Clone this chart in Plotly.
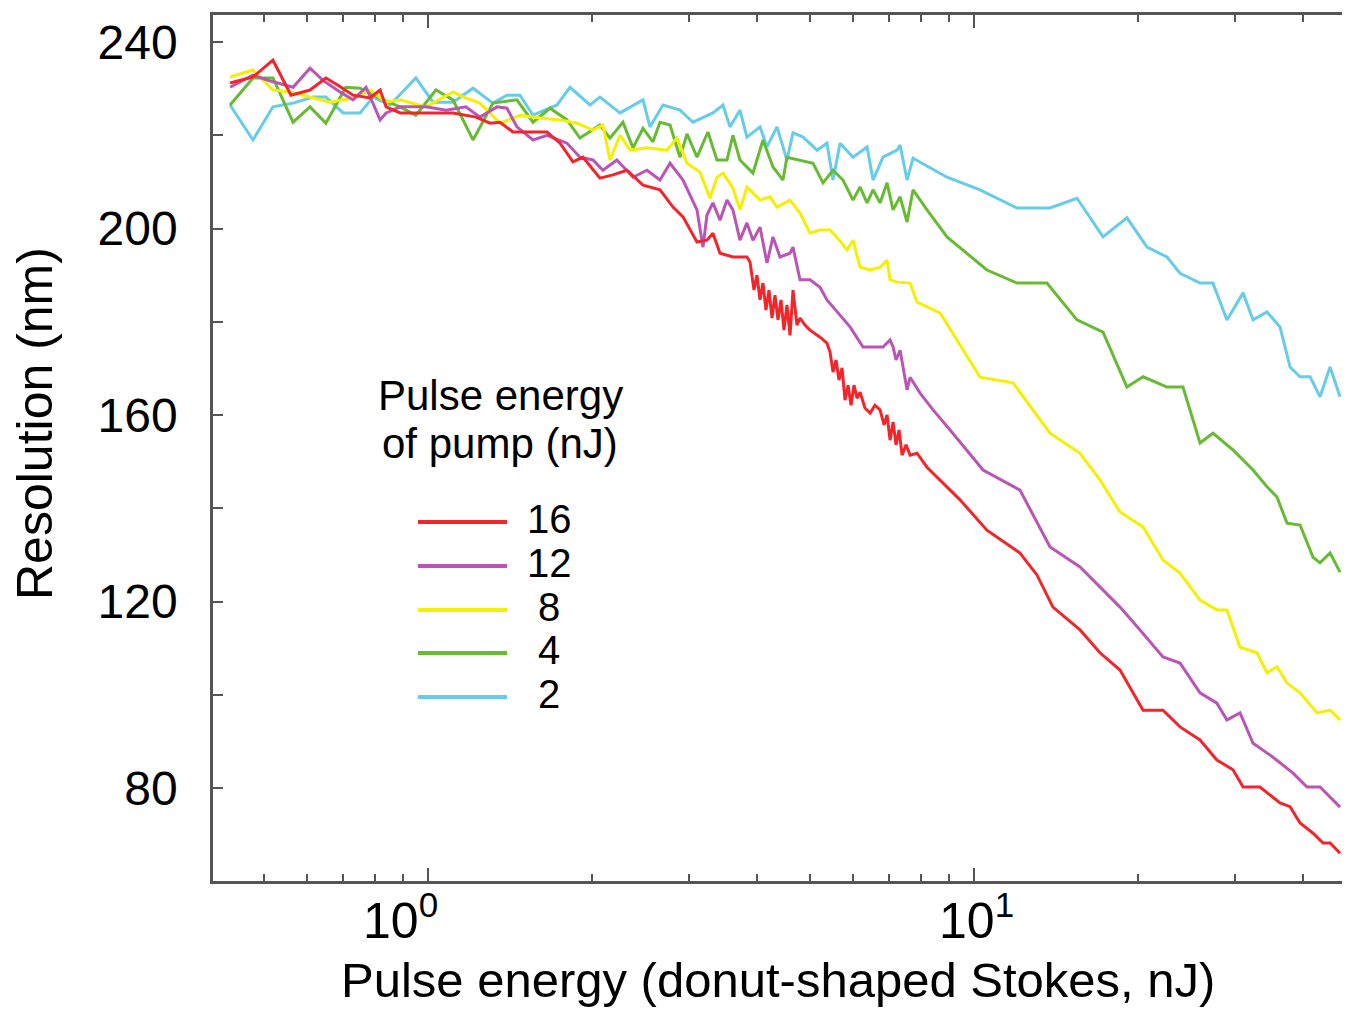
import plotly.graph_objects as go

# Pump pulse energies (nJ) and line colours, legend order
pump = [16, 12, 8, 4, 2]
colors = ["#f2262a", "#bb55b5", "#f5ef00", "#66bb33", "#66ccea"]

# Stokes pulse energy (nJ) / resolution (nm), one pair per pump energy
stokes_16 = [0.434, 0.478, 0.520, 0.561, 0.608, 0.650, 0.683, 0.729, 0.783, 0.817, 0.838, 0.889,
             1.111, 1.224, 1.299, 1.355, 1.431, 1.652, 1.745, 1.843, 1.922, 2.065, 2.181, 2.314,
             2.476, 2.660, 2.810, 2.931, 3.109, 3.243, 3.325, 3.426, 3.618, 3.838, 3.888, 3.954,
             4.004, 4.056, 4.107, 4.159, 4.212, 4.266, 4.320, 4.375, 4.431, 4.487, 4.544, 4.603,
             4.661, 4.740, 4.801, 4.903, 5.008, 5.224, 5.379, 5.449, 5.518, 5.588, 5.659, 5.732,
             5.805, 5.879, 5.954, 6.029, 6.106, 6.184, 6.314, 6.451, 6.586, 6.729, 6.843, 6.930,
             7.019, 7.108, 7.198, 7.290, 7.383, 7.508, 7.637, 7.864, 8.203, 8.925, 9.428, 10.56,
             12.14, 13.04, 13.95, 15.64, 17.01, 18.51, 20.40, 22.19, 23.84, 25.94, 27.85, 29.81,
             31.10, 33.41, 36.35, 37.92, 39.55, 41.78, 43.58, 44.89, 46.82]
res_16 = [231.2, 232.5, 236.1, 228.6, 229.7, 232.3, 230.8, 228.6, 228.0, 229.7, 226.1, 224.8,
          224.8, 223.9, 222.6, 222.8, 220.7, 220.7, 218.3, 214.3, 215.3, 210.8, 211.5, 212.5,
          209.3, 208.3, 204.6, 202.5, 197.1, 197.5, 199.0, 194.7, 193.9, 193.9, 192.8, 186.8,
          190.0, 184.7, 188.3, 182.5, 186.8, 180.8, 185.7, 180.4, 184.7, 178.2, 183.6, 177.1,
          186.8, 179.3, 180.8, 179.3, 178.2, 176.7, 175.4, 173.5, 169.2, 171.8, 167.5, 170.1,
          163.2, 166.4, 162.1, 166.4, 163.6, 164.9, 161.5, 160.4, 162.1, 161.1, 157.9, 160.0,
          154.6, 158.5, 153.6, 156.8, 151.4, 153.6, 151.4, 151.8, 148.8, 144.6, 141.8, 135.3,
          130.4, 125.7, 118.8, 113.9, 109.0, 105.3, 96.7, 96.7, 93.1, 90.3, 86.0, 83.9,
          80.2, 80.2, 76.8, 76.0, 72.5, 70.3, 68.2, 68.2, 66.0]

stokes_12 = [0.434, 0.478, 0.509, 0.566, 0.608, 0.642, 0.690, 0.729, 0.770, 0.817, 0.838, 0.889,
             0.991, 1.079, 1.173, 1.245, 1.338, 1.395, 1.455, 1.557, 1.652, 1.797, 1.898, 2.005,
             2.091, 2.218, 2.374, 2.518, 2.660, 2.775, 2.931, 3.109, 3.189, 3.243, 3.325, 3.426,
             3.528, 3.618, 3.727, 3.838, 3.937, 4.056, 4.177, 4.284, 4.412, 4.603, 4.661, 4.801,
             5.008, 5.224, 5.379, 5.518, 5.929, 6.262, 6.814, 7.019, 7.108, 7.198, 7.321, 7.540,
             7.637, 7.966, 8.415, 9.040, 10.39, 12.14, 13.78, 15.64, 17.01, 18.51, 20.14, 22.19,
             23.84, 25.94, 27.85, 29.06, 30.71, 32.44, 35.29, 38.40, 40.73, 43.03, 46.82]
res_12 = [230.3, 232.9, 231.8, 230.3, 234.4, 231.8, 229.3, 227.6, 230.3, 223.3, 224.8, 226.1,
          226.1, 225.4, 226.1, 223.9, 226.1, 225.8, 221.8, 219.0, 220.0, 218.3, 215.3, 214.7,
          212.5, 214.7, 211.0, 212.5, 210.4, 214.0, 210.4, 204.0, 196.0, 202.9, 205.5, 201.8,
          206.1, 204.0, 197.5, 201.2, 197.5, 200.3, 192.6, 198.2, 193.9, 194.7, 196.0, 189.0,
          189.0, 187.4, 184.7, 183.2, 178.9, 174.6, 174.6, 176.1, 174.6, 171.8, 173.9, 165.4,
          168.1, 164.7, 161.1, 156.8, 148.2, 143.9, 131.7, 127.4, 123.1, 118.8, 113.9, 108.1,
          106.8, 100.4, 98.2, 94.6, 96.1, 89.6, 86.6, 83.2, 80.2, 80.2, 75.9]

stokes_8 = [0.434, 0.478, 0.520, 0.559, 0.661, 0.729, 0.783, 0.838, 0.889, 0.991, 1.111, 1.173,
            1.245, 1.355, 1.474, 1.604, 1.745, 1.874, 2.005, 2.091, 2.154, 2.247, 2.344, 2.518,
            2.739, 2.857, 2.981, 3.149, 3.284, 3.382, 3.469, 3.618, 3.727, 3.838, 4.056, 4.230,
            4.357, 4.603, 4.801, 5.008, 5.224, 5.449, 5.604, 5.853, 6.004, 6.184, 6.451, 6.729,
            6.930, 7.019, 7.229, 7.637, 7.864, 8.667, 9.428, 10.26, 11.79, 13.78, 15.64, 17.01,
            18.51, 20.40, 22.19, 23.84, 25.94, 27.85, 29.06, 30.71, 32.99, 34.41, 35.89, 37.44,
            39.55, 42.49, 44.89, 46.82]
res_8 = [232.5, 234.0, 229.7, 229.3, 227.1, 228.0, 229.7, 227.1, 227.6, 226.1, 229.3, 228.0,
         226.9, 222.6, 224.3, 223.7, 223.3, 222.6, 221.1, 222.2, 214.7, 220.0, 216.8, 217.3,
         216.8, 219.4, 214.0, 212.1, 206.5, 211.0, 211.9, 208.7, 204.0, 208.9, 206.1, 206.8,
         204.6, 206.1, 203.3, 199.0, 199.7, 199.7, 198.2, 195.4, 197.5, 191.7, 191.1, 191.7,
         193.2, 189.0, 188.5, 188.3, 184.2, 181.9, 175.0, 168.1, 166.9, 156.1, 151.8, 146.1,
         139.2, 136.0, 128.9, 126.1, 120.3, 118.2, 118.2, 110.2, 109.0, 104.7, 106.0, 102.5,
         100.4, 96.1, 96.7, 94.6]

stokes_4 = [0.434, 0.478, 0.520, 0.566, 0.608, 0.650, 0.707, 0.751, 0.827, 0.889, 0.950, 1.034,
            1.111, 1.209, 1.315, 1.455, 1.557, 1.673, 1.797, 1.898, 2.065, 2.154, 2.275, 2.374,
            2.476, 2.582, 2.660, 2.775, 2.894, 2.981, 3.109, 3.256, 3.382, 3.528, 3.618, 3.727,
            3.937, 4.107, 4.284, 4.468, 4.544, 4.801, 5.072, 5.290, 5.518, 5.756, 6.004, 6.184,
            6.370, 6.533, 6.729, 6.930, 7.108, 7.321, 7.540, 7.734, 8.203, 8.925, 10.56, 11.99,
            13.60, 15.44, 17.23, 19.06, 20.40, 22.57, 24.14, 25.94, 27.39, 29.81, 32.44, 34.41,
            35.89, 37.44, 39.55, 41.78, 43.03, 44.89, 46.82]
res_4 = [226.5, 232.3, 232.3, 222.8, 226.1, 222.6, 230.3, 230.1, 227.6, 226.1, 224.3, 229.7,
         227.6, 219.0, 226.9, 227.6, 222.8, 225.8, 223.3, 219.4, 222.2, 219.4, 222.8, 217.3,
         221.5, 218.6, 222.8, 222.2, 215.3, 220.3, 215.3, 220.7, 214.7, 214.7, 220.0, 214.7,
         211.9, 219.0, 213.2, 210.4, 215.3, 214.7, 214.0, 209.8, 212.5, 210.4, 206.1, 208.9,
         205.5, 208.3, 205.5, 209.8, 204.0, 206.8, 201.4, 208.3, 204.0, 198.2, 191.1, 188.3,
         188.3, 180.4, 177.8, 166.0, 168.2, 166.0, 166.0, 154.0, 156.1, 152.5, 148.2, 144.6,
         142.4, 136.8, 136.4, 129.5, 128.3, 130.4, 126.3]

stokes_2 = [0.434, 0.478, 0.520, 0.566, 0.616, 0.650, 0.699, 0.751, 0.793, 0.852, 0.950, 1.021,
            1.111, 1.209, 1.315, 1.395, 1.474, 1.557, 1.723, 1.820, 1.980, 2.065, 2.247, 2.476,
            2.550, 2.694, 2.894, 3.057, 3.325, 3.469, 3.573, 3.727, 3.838, 4.056, 4.177, 4.357,
            4.544, 4.661, 4.862, 5.161, 5.379, 5.518, 5.684, 6.004, 6.370, 6.533, 6.814, 7.229,
            7.321, 7.540, 7.734, 8.925, 10.26, 11.99, 13.78, 15.44, 17.23, 19.06, 20.74, 22.57,
            23.84, 25.94, 27.39, 29.06, 31.10, 32.44, 34.41, 36.35, 37.92, 39.55, 41.26, 43.03,
            44.89, 46.82]
res_2 = [226.5, 219.0, 226.1, 226.9, 228.2, 228.2, 224.8, 224.8, 228.2, 226.5, 232.3, 227.1,
         227.1, 230.1, 226.9, 228.6, 228.6, 224.3, 226.5, 230.3, 226.5, 228.2, 224.8, 227.6,
         221.8, 226.5, 225.4, 222.8, 224.8, 226.5, 221.8, 225.4, 219.6, 221.8, 217.5, 221.8,
         214.7, 220.5, 219.6, 216.8, 218.3, 210.4, 218.3, 215.3, 217.5, 210.4, 215.3, 216.8,
         217.9, 210.4, 215.1, 211.0, 208.3, 204.4, 204.4, 206.5, 198.2, 202.3, 196.0, 193.9,
         190.4, 188.3, 188.3, 180.4, 186.2, 180.4, 182.1, 178.9, 170.3, 168.2, 168.2, 163.9,
         170.3, 163.9]

series = [(stokes_16, res_16), (stokes_12, res_12), (stokes_8, res_8),
          (stokes_4, res_4), (stokes_2, res_2)]

# x tick labels and minor tick positions
major_x = [1, 10]
major_x_text = ["10<sup>0</sup>", "10<sup>1</sup>"]
minor_x = [0.5, 0.6, 0.7, 0.8, 0.9, 2, 3, 4, 5, 6, 7, 8, 9, 20, 30, 40]
major_y = [80, 120, 160, 200, 240]
minor_y = [100, 140, 180, 220]
all_y = [80, 100, 120, 140, 160, 180, 200, 220, 240]

# the page adds an 8px body margin all round, so the figure is 16px smaller than the window
W, H = 1334, 1001
L, R, T, B = 205, 0, 7, 128
# plot area in screen pixels (for placing the hand-made legend / labels)
X0, X1, Y0, Y1 = 213, 1342, 15, 881
axis_col = "#555555"
font = "Arial, Liberation Sans, sans-serif"


def px(x):
    return (x - X0) / (X1 - X0)


def py(y):
    return (Y1 - y) / (Y1 - Y0)


def label(x, y, text, size, **kw):
    fig.add_annotation(x=x, y=y, text=text, showarrow=False,
                       xanchor="center", yanchor="middle",
                       font=dict(size=size, color="black", family=font), **kw)


fig = go.Figure()
for i in reversed(range(len(series))):
    sx, sy = series[i]
    fig.add_trace(go.Scatter(x=sx, y=sy, mode="lines", name=str(pump[i]),
                             line=dict(color=colors[i], width=3), showlegend=False))

# hand-drawn legend (long sample lines like the original)
legend_rows = [522, 566, 610, 653, 697]
for i, yy in enumerate(legend_rows):
    fig.add_shape(type="line", xref="paper", yref="paper",
                  x0=px(418), x1=px(507), y0=py(yy), y1=py(yy),
                  line=dict(color=colors[i], width=4))
    label(px(549), py(yy - 3), str(pump[i]), 40, xref="paper", yref="paper")

label(px(500), py(395), "Pulse energy", 42, xref="paper", yref="paper")
label(px(500), py(443), "of pump (nJ)", 42, xref="paper", yref="paper")

# x tick labels as 10^n (annotation x is log10 on a log axis)
for k, (t, sh) in enumerate(zip(major_x_text, [-28, 2])):
    label(k, py(917), t, 50, xref="x", yref="paper", xshift=sh)

label(0.5, py(980), "Pulse energy (donut-shaped Stokes, nJ)", 49, xref="paper", yref="paper")
label(px(35), py(424), "Resolution (nm)", 50, xref="paper", yref="paper", textangle=-90)

fig.update_layout(
    width=W, height=H,
    margin=dict(l=L, r=R, t=T, b=B),
    paper_bgcolor="white", plot_bgcolor="white",
    font=dict(family=font, color="black"),
    xaxis=dict(type="log", range=[-0.3938, 1.674], showgrid=False, zeroline=False,
               showline=True, linecolor=axis_col, linewidth=2.5, mirror="ticks",
               ticks="inside", tickvals=major_x, ticklen=13, tickwidth=2, tickcolor=axis_col,
               showticklabels=False,
               minor=dict(tickvals=minor_x, ticks="inside", ticklen=7, tickwidth=2,
                          tickcolor=axis_col, showgrid=False)),
    yaxis=dict(range=[60.05, 245.8], showgrid=False, zeroline=False,
               showline=True, linecolor=axis_col, linewidth=2.5, mirror=False,
               ticks="inside", tickvals=major_y, ticklen=10, tickwidth=2, tickcolor=axis_col,
               tickfont=dict(size=48, color="black", family=font), ticklabelstandoff=23,
               minor=dict(tickvals=minor_y, ticks="inside", ticklen=10, tickwidth=2,
                          tickcolor=axis_col, showgrid=False)),
    # right-hand ticks only (the frame line there is cut off in the original)
    yaxis2=dict(overlaying="y", side="right", range=[60.05, 245.8], showgrid=False,
                zeroline=False, showline=False, ticks="inside", tickvals=all_y,
                ticklen=10, tickwidth=2, tickcolor=axis_col, showticklabels=False),
)

fig.write_html("out.html")
